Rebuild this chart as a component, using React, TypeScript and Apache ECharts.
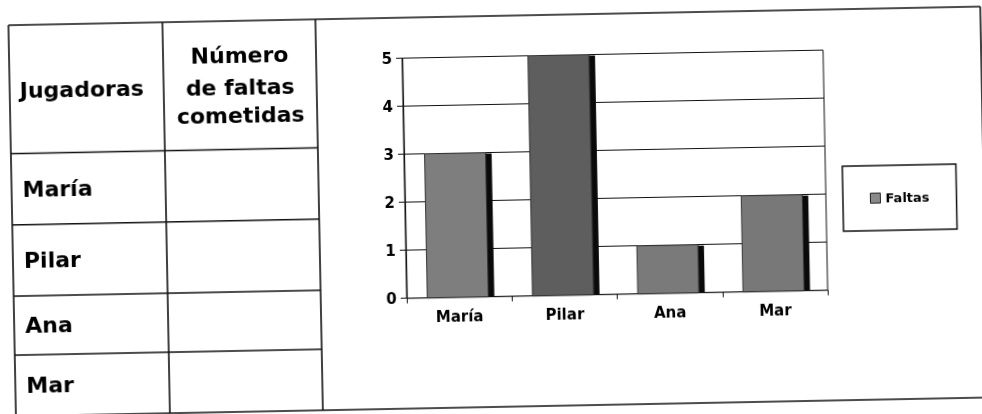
import React, { useEffect, useRef } from "react";
import * as echarts from "echarts";

const categories = ["María", "Pilar", "Ana", "Mar"];
const faltas = [3, 5, 1, 2];
const seriesName = "Faltas";
const tableHeader = "Jugadoras";
const tableHeader2Lines = ["Número", "de faltas", "cometidas"];
const yMin = 0;
const yMax = 5;
const yInterval = 1;

const barShades = ["#7e7e7e", "#5e5e5e", "#7a7a7a", "#787878"];
const FONT = "DejaVu Sans";
const INK = "#111";

export default function App() {
  const ref = useRef<HTMLDivElement>(null);

  useEffect(() => {
    if (!ref.current) return;
    const chart = echarts.init(ref.current, null, { renderer: "svg" });

    const L = 12, R = 984, T = 16, B = 407;
    const c1 = 166, c2 = 319;
    const rowLines = [144.5, 215.7, 287, 346];
    const rowTextY = [180.3, 251.3, 316.3, 376.3];
    const headerTextY = [50.8, 82.5, 110.8];

    const lineEl = (x1: number, y1: number, x2: number, y2: number) => ({
      type: "line",
      silent: true,
      shape: { x1, y1, x2, y2 },
      style: { stroke: INK, lineWidth: 1.6 },
    });
    const textEl = (text: string, x: number, y: number, align: string) => ({
      type: "text",
      silent: true,
      x,
      y,
      style: {
        text,
        fill: "#000",
        font: `bold 22px "${FONT}"`,
        align,
        verticalAlign: "middle",
      },
    });

    const graphics: any[] = [
      lineEl(L, T, R, T),
      lineEl(R, T, R, 430),
      lineEl(L, B, R + 10, B),
      lineEl(L, T, L, 430),
      lineEl(c1, T, c1, B),
      lineEl(c2, T, c2, B),
      ...rowLines.map((y) => lineEl(L, y, c2, y)),
      textEl(tableHeader, 22, 81, "left"),
      ...tableHeader2Lines.map((t, i) => textEl(t, 242.5, headerTextY[i], "center")),
      ...categories.map((c, i) => textEl(c, 23, rowTextY[i], "left")),
    ];

    chart.setOption({
      animation: false,
      backgroundColor: "#fff",
      graphic: graphics,
      grid: {
        left: 405,
        top: 56.5,
        width: 421,
        height: 240.2,
        show: true,
        borderColor: INK,
        borderWidth: 1,
        containLabel: false,
      },
      legend: {
        data: [seriesName],
        left: 843,
        top: 173,
        padding: [26, 27],
        borderColor: INK,
        borderWidth: 1.5,
        icon: "rect",
        itemWidth: 10,
        itemHeight: 10,
        itemStyle: { color: "#8a8a8a", borderColor: "#222", borderWidth: 1 },
        textStyle: { fontFamily: FONT, fontWeight: "bold", fontSize: 13, color: "#000" },
        itemGap: 5,
      },
      xAxis: {
        type: "category",
        data: categories,
        boundaryGap: true,
        axisLine: { show: true, lineStyle: { color: INK, width: 1.2 } },
        axisTick: { show: true, length: 5, lineStyle: { color: INK } },
        axisLabel: { fontFamily: FONT, fontWeight: "bold", fontSize: 15, color: "#000", margin: 12 },
        splitLine: { show: false },
      },
      yAxis: {
        type: "value",
        min: yMin,
        max: yMax,
        interval: yInterval,
        axisLine: { show: true, lineStyle: { color: INK, width: 1.2 } },
        axisTick: { show: true, inside: false, length: 6, lineStyle: { color: INK } },
        axisLabel: { fontFamily: FONT, fontWeight: "bold", fontSize: 15, color: "#000", margin: 10 },
        splitLine: { show: true, lineStyle: { color: INK, width: 1 } },
      },
      series: [
        {
          type: "custom",
          name: seriesName,
          itemStyle: { color: "#8a8a8a" },
          encode: { x: 0, y: 1 },
          data: categories.map((_, i) => [i, faltas[i]]),
          renderItem: (params: any, api: any) => {
            const idx = api.value(0);
            const val = api.value(1);
            const top = api.coord([idx, val]);
            const base = api.coord([idx, 0]);
            const band = api.size([1, 0])[0];
            const w = band * 0.58;
            const side = 6;
            const x = top[0] - (w + side) / 2 + 1.5;
            const h = base[1] - top[1];
            return {
              type: "group",
              children: [
                {
                  type: "rect",
                  shape: { x: x + w - 1, y: top[1] + 1, width: side + 1, height: h - 1 },
                  style: { fill: "#0a0a0a" },
                },
                {
                  type: "rect",
                  shape: { x, y: top[1], width: w, height: h },
                  style: { fill: barShades[params.dataIndex], stroke: "#333", lineWidth: 1 },
                },
              ],
            };
          },
        },
      ],
    });

    return () => chart.dispose();
  }, []);

  return (
    <div
      ref={ref}
      style={{
        position: "fixed",
        left: 0,
        top: 0,
        width: 1000,
        height: 430,
        transform: "rotate(-1.1deg)",
        transformOrigin: "491px 207px",
      }}
    />
  );
}
